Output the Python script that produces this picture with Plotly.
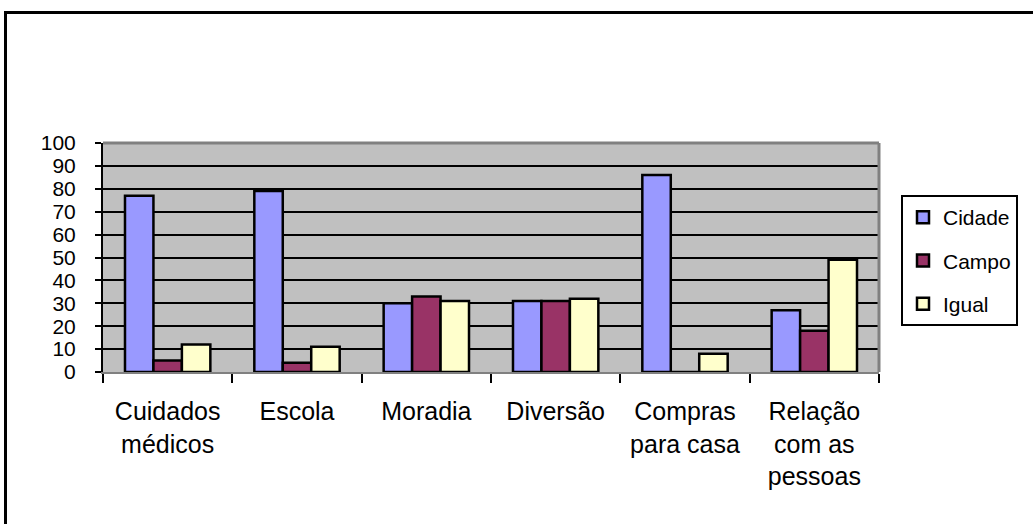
import plotly.graph_objects as go

categories = ["Cuidados<br>médicos", "Escola", "Moradia", "Diversão",
              "Compras<br>para casa", "Relação<br>com as<br>pessoas"]
cidade = [77, 79, 30, 31, 86, 27]
campo = [5, 4, 33, 31, 0, 18]
igual = [12, 11, 31, 32, 8, 49]

series = [("Cidade", cidade, "#9999FF"),
          ("Campo", campo, "#993366"),
          ("Igual", igual, "#FFFFCC")]

FONT = "Liberation Sans, Arial, sans-serif"

fig = go.Figure()
for name, vals, color in series:
    fig.add_trace(go.Bar(
        x=categories, y=vals, name=name, legendgroup=name,
        marker=dict(color=color, line=dict(color="black", width=2.5)),
    ))

W, H = 1033, 524
L, R, T, B = 103, 154, 143, 152
pw, ph = W - L - R, H - T - B

def px(x):
    return (x - L) / pw

def py(y):
    return (H - B - y) / ph

fig.update_layout(
    width=W, height=H,
    margin=dict(l=L, r=R, t=T, b=B, autoexpand=False),
    paper_bgcolor="white", plot_bgcolor="#C0C0C0",
    barmode="group", bargap=0.34, bargroupgap=0,
    font=dict(family=FONT, color="black"),
    showlegend=True,
    legend=dict(
        x=px(901), y=py(195), xanchor="left", yanchor="top",
        bgcolor="white", bordercolor="black", borderwidth=2,
        font=dict(family=FONT, size=21, color="black"),
        tracegroupgap=13, itemwidth=30,
    ),
    xaxis=dict(
        type="category", tickson="boundaries", ticks="outside", ticklen=9,
        tickwidth=2, tickcolor="black", showgrid=False,
        showline=True, linecolor="#808080", linewidth=2,
        tickfont=dict(family=FONT, size=25, color="black"),
        ticklabelstandoff=16, tickangle=0,
    ),
    yaxis=dict(
        range=[0, 100], dtick=10, ticks="outside", ticklen=6, tickwidth=2,
        tickcolor="black", showgrid=True, gridcolor="black", gridwidth=2,
        showline=True, linecolor="black", linewidth=2, zeroline=False,
        tickfont=dict(family=FONT, size=21, color="black"),
        ticklabelstandoff=15,
    ),
    shapes=[
        dict(type="line", xref="paper", yref="paper", x0=0, x1=1, y0=1, y1=1,
             line=dict(color="#808080", width=3), layer="above"),
        dict(type="line", xref="paper", yref="paper", x0=1, x1=1, y0=0, y1=1,
             line=dict(color="#808080", width=3), layer="above"),
        dict(type="rect", xref="paper", yref="paper",
             x0=px(5.5), x1=px(1040), y0=py(560), y1=py(12.5),
             line=dict(color="black", width=3), fillcolor="rgba(0,0,0,0)",
             layer="above"),
    ],
)

fig.write_html("out.html", config={"displayModeBar": False},
               post_script="document.body.style.margin='0';document.body.style.overflow='hidden';")
